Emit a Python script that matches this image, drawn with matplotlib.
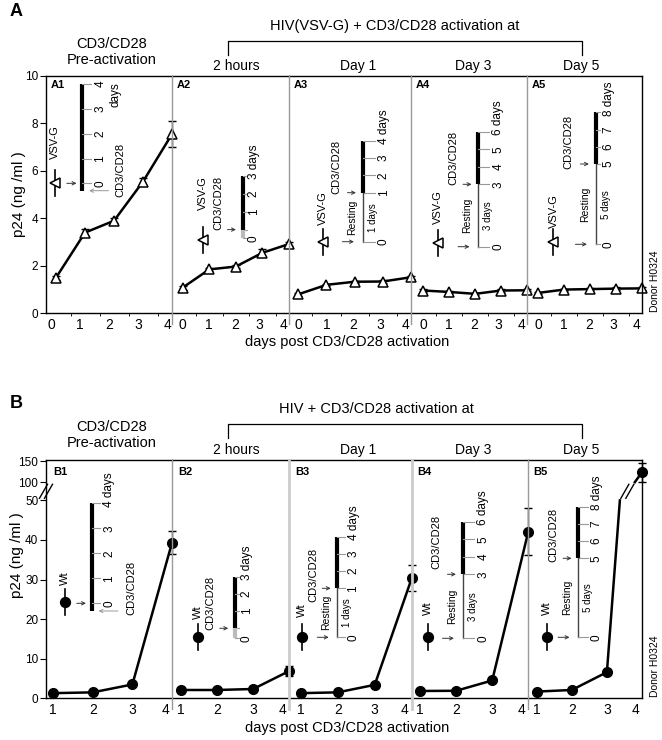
import numpy as np
import matplotlib
matplotlib.use("Agg")
import matplotlib.pyplot as plt
from matplotlib.lines import Line2D
from matplotlib.patches import FancyArrowPatch
from matplotlib.transforms import ScaledTranslation, blended_transform_factory

plt.rcParams["font.family"] = ["Liberation Sans", "DejaVu Sans"]

W, H = 662, 740

# ---- data ----
a_days = [0, 1, 2, 3, 4]
a1 = [1.5, 3.4, 3.9, 5.55, 7.55]
a2 = [1.08, 1.85, 1.97, 2.55, 2.92]
a3 = [0.8, 1.2, 1.33, 1.34, 1.52]
a4 = [0.96, 0.9, 0.82, 0.96, 0.97]
a5 = [0.86, 1.0, 1.02, 1.04, 1.05]
a1_err = [0.08, 0.15, 0.1, 0.14, 0.55]
a2_err = [0.08, 0.08, 0.08, 0.14, 0.1]
a3_err = [0.05, 0.05, 0.05, 0.05, 0.06]
a4_err = [0.05, 0.04, 0.05, 0.05, 0.05]
a5_err = [0.04, 0.04, 0.05, 0.05, 0.05]

b_days = [1, 2, 3, 4]
b1 = [1.3, 1.5, 3.5, 39.3]
b2 = [2.1, 2.1, 2.35, 6.9]
b3 = [1.3, 1.5, 3.4, 30.3]
b4 = [1.85, 1.9, 4.5, 42.1]
b5 = [1.7, 2.1, 6.6, 124.0]
b1_err = [0.3, 0.3, 0.5, 2.9]
b2_err = [0.2, 0.2, 0.3, 1.2]
b3_err = [0.2, 0.2, 0.4, 3.3]
b4_err = [0.2, 0.2, 0.5, 6.0]
b5_err = [0.2, 0.2, 0.5, 23.0]

a_names = ["A1", "A2", "A3", "A4", "A5"]
b_names = ["B1", "B2", "B3", "B4", "B5"]
act_start = [0, 0, 1, 3, 5]          # day of CD3/CD28 activation on each timeline
rest_labels = ["", "", "1 days", "3 days", "5 days"]
timepoints = ["2 hours", "Day 1", "Day 3", "Day 5"]
b_yticks = [0, 10, 20, 30, 40, 50, 100, 150]

# ---- layout (figure pixels) ----
a_bounds = [46, 172, 289, 411, 527, 642]
a_top, a_bot = 76, 313.3
a_xlims = [(-0.345, 4), (-0.40, 4), (-0.33, 4), (-0.47, 4), (-0.43, 4)]
a_label_shift = [[-5, -5, -5, -5, -5]] + [[0, 0, -1, -3, -6]] * 4
b_bounds = [46, 172, 289.3, 411.7, 528.3, 642]
b_top, b_bot = 460.3, 698.3
b_xlims = [(0.82, 4), (0.75, 4), (0.69, 4), (0.77, 4), (0.76, 4)]
b_label_shift = [[0, 0, 0, -7]] * 5

a_insets = [
    dict(bx=82.3, y0=183.3, rest=0, dpx=24.8, n=4, ldx=18, ext=7.4,
         cd=(120, 170), mk=(55, 183.3), lab=(55, 141.7), days_at=(115, 95)),
    dict(bx=242.7, y0=238.3, rest=8.7, dpx=17.9, n=3, ldx=11,
         cd=(218, 203), mk=(203, 240), lab=(203, 193)),
    dict(bx=362.7, y0=241.7, rest=49, dpx=17.3, n=3, ldx=21,
         cd=(336.7, 166.7), mk=(323, 241.7), lab=(323, 208)),
    dict(bx=478.3, y0=246.7, rest=62.4, dpx=17.5, n=3, ldx=20,
         cd=(453.3, 158.3), mk=(438.3, 243.3), lab=(438.3, 206.7)),
    dict(bx=595.7, y0=244.3, rest=80.3, dpx=17.2, n=3, ldx=13,
         cd=(568.3, 141.7), mk=(553.3, 241.7), lab=(554, 211)),
]
b_insets = [
    dict(bx=91.7, y0=603.3, rest=0, dpx=25, n=4, ldx=17.6, ext=7.7,
         cd=(131, 588.3), mk=(65, 601.7), lab=(65, 578.3)),
    dict(bx=235, y0=638.3, rest=10, dpx=17.2, n=3, ldx=11.7,
         cd=(210, 603.3), mk=(198.3, 637.3), lab=(198.3, 612)),
    dict(bx=337.5, y0=637.3, rest=49, dpx=17.2, n=3, ldx=16,
         cd=(313.3, 575), mk=(301.7, 637.3), lab=(301.7, 610)),
    dict(bx=462.7, y0=638.3, rest=64, dpx=17.5, n=3, ldx=20.6,
         cd=(436.7, 541.7), mk=(428.3, 637.3), lab=(428.3, 608.3)),
    dict(bx=578.3, y0=637.3, rest=79, dpx=17.2, n=3, ldx=18.4,
         cd=(553.3, 535), mk=(546.7, 637.3), lab=(546.7, 608.3)),
]

# piecewise scale for the broken y axis of panel B
brk_in = [-1000, 0, 50, 100, 1000]
brk_out = [-1000, 0, 50, 54.6, 54.6 + 900 * 0.1045]


def fwd(v):
    return np.interp(v, brk_in, brk_out)


def inv(v):
    return np.interp(v, brk_out, brk_in)


fig = plt.figure(figsize=(W / 100, H / 100), dpi=100)


def fline(xs, ys, **kw):
    fig.add_artist(Line2D([x / W for x in xs], [1 - y / H for y in ys],
                          transform=fig.transFigure, **kw))


def ftext(x, y, s, **kw):
    fig.text(x / W, 1 - y / H, s, **kw)


def farrow(x0, x1, y, color="#333333"):
    fig.add_artist(FancyArrowPatch((x0 / W, 1 - y / H), (x1 / W, 1 - y / H),
                                   transform=fig.transFigure, arrowstyle="->",
                                   mutation_scale=6, lw=0.7, color=color))


def make_row(bounds, top, bot, xlims, divider_style):
    axes = []
    for i in range(5):
        l, r = bounds[i], bounds[i + 1]
        ax = fig.add_axes([l / W, 1 - bot / H, (r - l) / W, (bot - top) / H])
        ax.set_xlim(*xlims[i])
        ax.spines["left"].set_visible(i == 0)
        ax.spines["right"].set_visible(i == 4)
        for sp in ax.spines.values():
            sp.set_linewidth(1.0)
        ax.patch.set_alpha(0)
        ax.tick_params(axis="y", length=4, width=0.8, pad=1.5, labelsize=8.5)
        ax.tick_params(axis="x", which="major", length=0, labelbottom=False)
        if i > 0:
            ax.tick_params(axis="y", left=False, labelleft=False)
        axes.append(ax)
    for x, (c, lw) in zip(bounds[1:-1], divider_style):
        fline([x, x], [top, bot + 11], color=c, lw=lw)
    return axes


def day_labels(ax, days, shifts):
    # tick labels, nudged the way the original lays them out
    base = blended_transform_factory(ax.transData, ax.transAxes)
    for d, dx in zip(days, shifts):
        tr = base + ScaledTranslation(dx / 100, -4.5 / 100, fig.dpi_scale_trans)
        ax.text(d, 0, str(d), transform=tr, ha="center", va="top", fontsize=10)


def inset(s, start, rest_label, legend_label, marker, mfc):
    bx, y0, n, dpx = s["bx"], s["y0"], s["n"], s["dpx"]
    ya = y0 - s["rest"]
    tl = max(s["ldx"] - 9, 4)
    gray = "#999999"
    fline([bx, bx], [ya + s.get("ext", 0), ya - n * dpx], color="black",
          lw=3, solid_capstyle="butt")
    for k in range(n + 1):
        y = ya - k * dpx
        fline([bx, bx + tl], [y, y], color=gray, lw=0.8)
        if s["rest"] > 0 and start == 0 and k == 0:
            continue
        if k == n and "days_at" not in s:
            ftext(bx + s["ldx"], y + 3.3, f"{start + k} days", rotation=90,
                  rotation_mode="anchor", ha="left", va="center", fontsize=8.5)
        else:
            ftext(bx + s["ldx"], y, str(start + k), rotation=90,
                  ha="center", va="center", fontsize=8.5)
    if "days_at" in s:
        ftext(*s["days_at"], "days", rotation=90, ha="center", va="center",
              fontsize=8.5)
    mx, my = s["mk"]
    if s["rest"] > 0:
        if start == 0:
            fline([bx, bx], [y0, ya], color="#bbbbbb", lw=3, solid_capstyle="butt")
        else:
            fline([bx, bx], [y0, ya], color="#444444", lw=1)
            ym = (y0 + ya) / 2
            ftext(bx + 10, ym, rest_label, rotation=90, ha="center",
                  va="center", fontsize=7)
            ftext(bx - 11, ym, "Resting", rotation=90, ha="center",
                  va="center", fontsize=7.5)
            farrow(bx - 23, bx - 6, y0)
        fline([bx, bx + tl], [y0, y0], color=gray, lw=0.8)
        ftext(bx + s["ldx"], y0, "0", rotation=90, ha="center", va="center",
              fontsize=8.5)
        farrow(bx - 18, bx - 4, ya)
    else:
        farrow(bx + 29, bx + 4, ya + s["ext"], color=gray)
        farrow(mx + 9, bx - 3, y0)
    ftext(*s["cd"], "CD3/CD28", rotation=90, ha="center", va="center",
          fontsize=8)
    fline([mx, mx], [my - 13, my + 13], color="black", lw=1.2)
    fig.add_artist(Line2D([mx / W], [1 - my / H], transform=fig.transFigure,
                          marker=marker, ms=7, mfc=mfc, mec="black", mew=1.1,
                          ls="none"))
    ftext(*s["lab"], legend_label, rotation=90, ha="center", va="center",
          fontsize=8)


def header(y_title, title, y_brk, y_tp):
    ftext(112, y_title + 26, "CD3/CD28\nPre-activation", ha="center",
          va="center", fontsize=10.5, linespacing=1.15)
    ftext(title[1], y_title, title[0], ha="center", va="center", fontsize=10.5)
    fline([228.3, 228.3, 582, 582], [y_brk + 14, y_brk, y_brk, y_brk + 14],
          color="black", lw=0.9)
    for x, t in zip([236, 358.3, 472.7, 581.5], timepoints):
        ftext(x, y_tp, t, ha="center", va="center", fontsize=10)


# ---------------- panel A ----------------
a_series = [a1, a2, a3, a4, a5]
a_errs = [a1_err, a2_err, a3_err, a4_err, a5_err]
axes_a = make_row(a_bounds, a_top, a_bot, a_xlims, [("#999999", 1)] * 4)
for i, ax in enumerate(axes_a):
    ax.set_ylim(0, 10)
    ax.set_yticks([0, 2, 4, 6, 8, 10])
    ax.set_xticks(a_days)
    ax.set_xticks([0.5, 1.5, 2.5, 3.5], minor=True)
    ax.tick_params(axis="x", which="minor", length=2, width=0.6)
    day_labels(ax, a_days, a_label_shift[i])
    eb = ax.errorbar(a_days, a_series[i], yerr=a_errs[i], fmt="none",
                     ecolor="black", elinewidth=1, capsize=3, capthick=1)
    for art in eb.lines[1] + eb.lines[2]:
        art.set_clip_on(False)
    ax.plot(a_days, a_series[i], color="black", lw=1.8, marker="^", ms=7.5,
            mfc="white", mec="black", mew=1.1, clip_on=False)
    ax.text(0.09 if i == 0 else 0.1, 0.96, a_names[i], transform=ax.transAxes,
            fontsize=8, fontweight="bold", va="center", ha="center")
    inset(a_insets[i], act_start[i], rest_labels[i], "VSV-G", "<", "white")

header(26, ("HIV(VSV-G) + CD3/CD28 activation at", 395), 40.7, 66)
ftext(16, 11, "A", fontsize=13, fontweight="bold", ha="center", va="center")
ftext(19, 194.5, "p24 (ng /ml )", rotation=90, ha="center", va="center", fontsize=11)
ftext(347.5, 341.7, "days post CD3/CD28 activation", ha="center", va="center",
      fontsize=10.5)
ftext(655, 281.7, "Donor H0324", rotation=90, ha="center", va="center", fontsize=7.5)

# ---------------- panel B ----------------
b_series = [b1, b2, b3, b4, b5]
b_errs = [b1_err, b2_err, b3_err, b4_err, b5_err]
axes_b = make_row(b_bounds, b_top, b_bot, b_xlims,
                  [("#999999", 1), ("#cccccc", 2), ("#cccccc", 2), ("#999999", 1)])


def slashes(ax, xd, yd):
    # two short parallel strokes marking a break, at data point (xd, yd)
    px, py = ax.transData.transform((xd, yd))
    for dx in (-2.5, 2.5):
        fline([px + dx - 4, px + dx + 4], [H - py + 7, H - py - 7],
              color="black", lw=1)


for i, ax in enumerate(axes_b):
    ax.set_yscale("function", functions=(fwd, inv))
    ax.set_ylim(0, 152.9)
    ax.set_yticks(b_yticks)
    ax.set_yticklabels([str(t) for t in b_yticks])
    ax.yaxis.set_minor_locator(matplotlib.ticker.NullLocator())
    ax.set_xticks(b_days)
    day_labels(ax, b_days, b_label_shift[i])
    ys = b_series[i]
    # split the line where it passes through the axis break (50 -> 100)
    xs_piece, ys_piece = [b_days[0]], [ys[0]]
    for k in range(1, len(ys)):
        if ys[k - 1] <= 50 and ys[k] >= 100:
            xl = np.interp(50, [ys[k - 1], ys[k]], [b_days[k - 1], b_days[k]])
            xh = np.interp(100, [ys[k - 1], ys[k]], [b_days[k - 1], b_days[k]])
            ax.plot(xs_piece + [xl], ys_piece + [50], color="black", lw=1.8,
                    clip_on=False)
            slashes(ax, (xl + xh) / 2, 75)
            xs_piece, ys_piece = [xh], [100]
        xs_piece.append(b_days[k])
        ys_piece.append(ys[k])
    ax.plot(xs_piece, ys_piece, color="black", lw=1.8, clip_on=False)
    eb = ax.errorbar(b_days, ys, yerr=b_errs[i], fmt="none", ecolor="black",
                     elinewidth=1, capsize=3, capthick=1)
    for art in eb.lines[1] + eb.lines[2]:
        art.set_clip_on(False)
    ax.plot(b_days, ys, ls="none", marker="o", ms=7, color="black", clip_on=False)
    ax.text(0.11, 0.95, b_names[i], transform=ax.transAxes, fontsize=8,
            fontweight="bold", va="center", ha="center")
    inset(b_insets[i], act_start[i], rest_labels[i], "Wt", "o", "black")

# break marks on the y axis of B
px0, py0 = axes_b[0].transData.transform((b_xlims[0][0], 75))
for dx in (-2.5, 2.5):
    fline([px0 + dx - 4, px0 + dx + 4], [H - py0 + 7, H - py0 - 7],
          color="black", lw=1)

header(409, ("HIV + CD3/CD28 activation at", 376.5), 424.3, 450)
ftext(16, 403, "B", fontsize=13, fontweight="bold", ha="center", va="center")
ftext(17, 555, "p24 (ng /ml )", rotation=90, ha="center", va="center", fontsize=11)
ftext(347.5, 728.3, "days post CD3/CD28 activation", ha="center", va="center",
      fontsize=10.5)
ftext(655, 666.7, "Donor H0324", rotation=90, ha="center", va="center", fontsize=7.5)

fig.savefig("out.png", dpi=100)
